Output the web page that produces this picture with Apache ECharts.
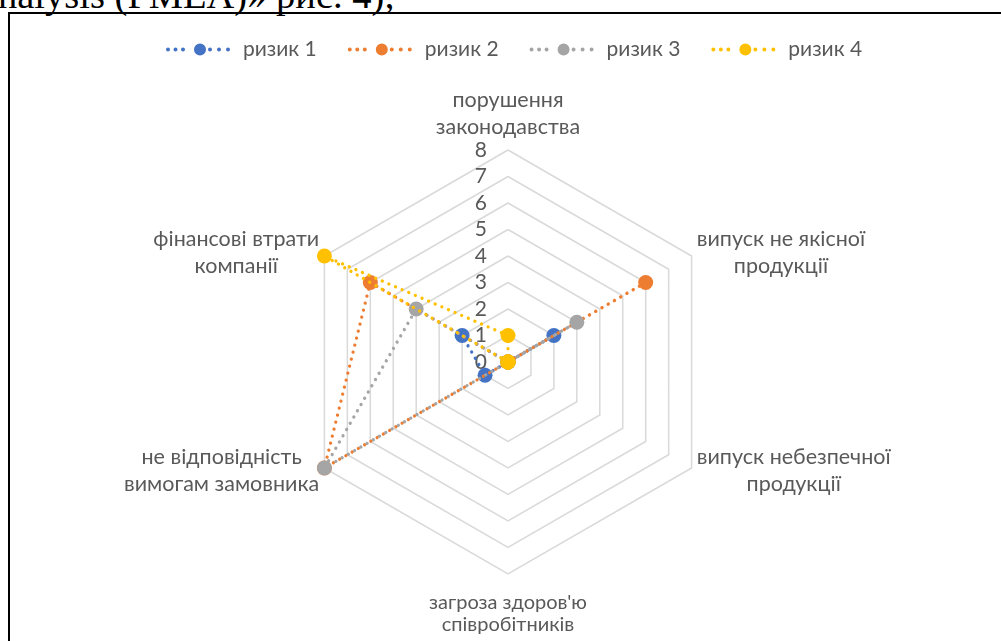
<!DOCTYPE html>
<html><head><meta charset="utf-8">
<script src="https://cdn.jsdelivr.net/npm/echarts@6/dist/echarts.min.js"></script>
<style>
html,body{margin:0;padding:0;width:1001px;height:641px;overflow:hidden;background:#fff;}
#frame{position:absolute;left:8px;top:12px;width:1100px;height:700px;border-left:2.5px solid #000;border-top:2.5px solid #000;box-sizing:border-box;}
#caption{position:absolute;left:-2px;top:-24px;font-family:"Liberation Serif";font-size:38.5px;line-height:38px;white-space:nowrap;color:#000;}
#chart{position:absolute;left:0;top:0;width:1001px;height:641px;}
</style></head>
<body>
<div id="caption">nalysis (FMEA)» рис. 4);</div>
<div id="frame"></div>
<div id="chart"></div>
<script>
// Categories in clockwise order starting at the top
const categories = ['порушення\nзаконодавства', 'випуск не якісної\nпродукції', 'випуск небезпечної\nпродукції', "загроза здоров'ю\nспівробітників", 'не відповідність\nвимогам замовника', 'фінансові втрати\nкомпанії'];
const seriesNames = ['ризик 1', 'ризик 2', 'ризик 3', 'ризик 4'];
const risk1 = [0, 2, 0, 0, 1, 2];
const risk2 = [0, 6, 0, 0, 8, 6];
const risk3 = [0, 3, 0, 0, 8, 4];
const risk4 = [1, 0, 0, 0, 0, 8];
const axisMin = 0;
const axisMax = 8;
const colors = ['#4472C4', '#ED7D31', '#A5A5A5', '#FFC000'];
const values = [risk1, risk2, risk3, risk4];

// ECharts radar places indicators counter-clockwise; reorder to get clockwise layout
const order = [0, 5, 4, 3, 2, 1];
const reorder = arr => order.map(i => arr[i]);

function circ(cx, cy, r) {
  return 'M' + (cx - r) + ' ' + cy + 'a' + r + ' ' + r + ' 0 1 0 ' + (2 * r) + ' 0a' + r + ' ' + r + ' 0 1 0 ' + (-2 * r) + ' 0Z';
}
// legend icon: dotted line with a round marker in the middle
const legendIcon = 'path://' + [circ(2, 6, 2), circ(9.5, 6, 2), circ(17, 6, 2), circ(34, 6, 6), circ(44, 6, 2), circ(53, 6, 2), circ(62, 6, 2)].join('');

const font = 'Lato';
const txtColor = '#595959';
const nameStyle = {align: 'center', color: txtColor, fontSize: 21.5, fontFamily: font, lineHeight: 27};

const chart = echarts.init(document.getElementById('chart'), null, {renderer: 'canvas'});
chart.setOption({
  animation: false,
  legend: {
    data: seriesNames,
    top: 34,
    left: 161,
    icon: legendIcon,
    itemWidth: 64,
    itemHeight: 12,
    itemGap: 31,
    textStyle: {color: txtColor, fontSize: 21, fontFamily: font, padding: [0, 0, 0, 8]},
    itemStyle: {borderWidth: 0}
  },
  radar: [{
    center: [508, 362],
    radius: 212,
    startAngle: 90,
    shape: 'polygon',
    splitNumber: 8,
    indicator: reorder(categories).map(n => ({name: n, min: axisMin, max: axisMax})),
    nameGap: 6,
    axisName: {
      color: txtColor,
      fontSize: 21.5,
      fontFamily: font,
      formatter: function (name) {
        const idx = categories.indexOf(name);
        const lines = name.split('\n');
        if (idx === 0) {
          return lines.map(l => '{c|' + l + '}').join('\n') + '\n{s1| }';
        }
        if (idx === 3) {
          return '{s2| }\n' + lines.map(l => '{b|' + l + '}').join('\n');
        }
        return lines.map(l => '{c|' + l + '}').join('\n');
      },
      rich: {
        c: nameStyle,
        b: Object.assign({}, nameStyle, {fontSize: 20, lineHeight: 22}),
        s1: {fontSize: 1, lineHeight: 3.5},
        s2: {fontSize: 1, lineHeight: 12}
      }
    },
    splitLine: {lineStyle: {color: '#D9D9D9', width: 1.5}},
    splitArea: {show: false},
    axisLine: {show: false},
    axisTick: {show: false},
    axisLabel: {show: false}
  }, {
    center: [508, 362],
    radius: 212,
    startAngle: 90,
    splitNumber: 8,
    indicator: [{name: '', min: axisMin, max: axisMax}],
    axisName: {show: false},
    splitLine: {show: false},
    splitArea: {show: false},
    axisLine: {show: false},
    axisTick: {show: false},
    axisLabel: {show: true, color: txtColor, fontSize: 21, fontFamily: font, margin: 21}
  }],
  series: seriesNames.map((nm, i) => ({
    type: 'radar',
    name: nm,
    radarIndex: 0,
    symbol: 'circle',
    symbolSize: 15,
    z: 2 + i,
    lineStyle: {color: colors[i], width: 3.3, type: [0.01, 7.2], cap: 'round'},
    itemStyle: {color: colors[i]},
    data: [{name: nm, value: reorder(values[i])}]
  }))
});
</script>
</body></html>
